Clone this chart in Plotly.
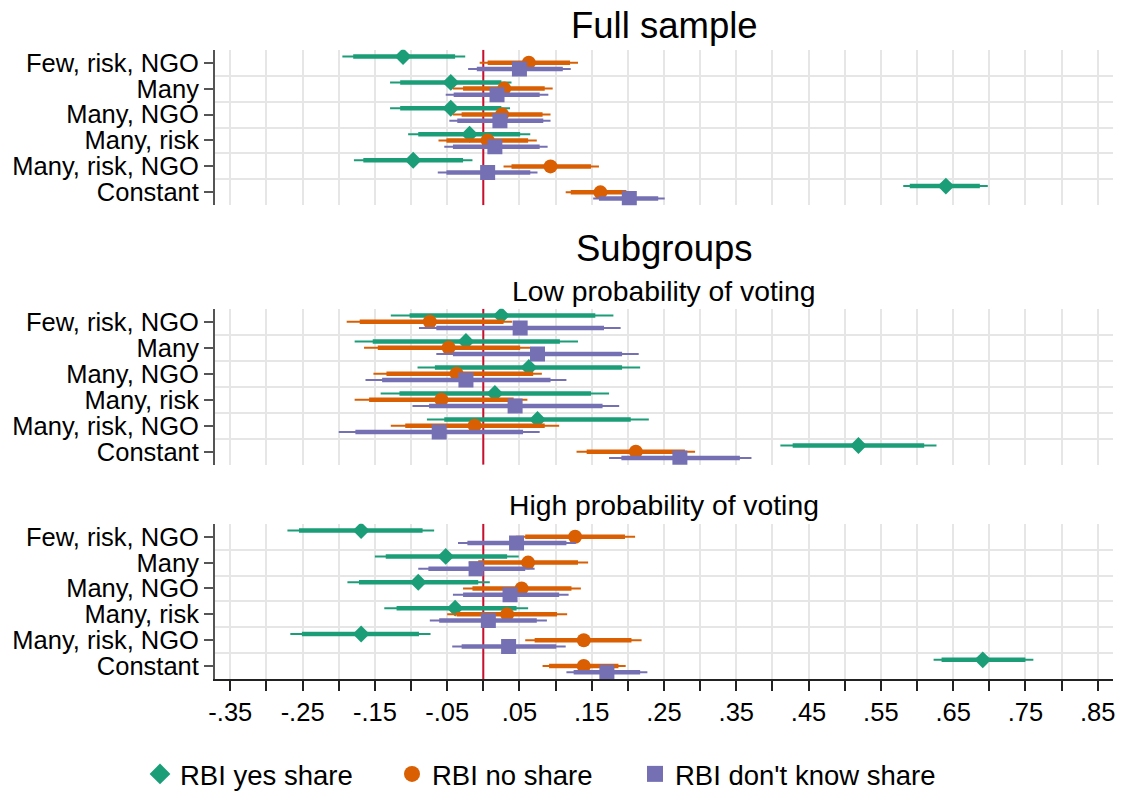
import plotly.graph_objects as go

categories = ["Few, risk, NGO", "Many", "Many, NGO", "Many, risk", "Many, risk, NGO", "Constant"]
series_names = ["RBI yes share", "RBI no share", "RBI don't know share"]
series_colors = ["#1b9e77", "#d95f02", "#7570b3"]
series_symbols = ["diamond", "circle", "square"]
series_sizes = [13, 14, 15]
legend_sizes = [18, 16, 16]

# each row: estimate, lower 95%, upper 95%, lower 90%, upper 90%
full_yes = [(-0.111, -0.195, -0.025, -0.180, -0.039),
            (-0.045, -0.129, 0.039, -0.115, 0.025),
            (-0.045, -0.129, 0.037, -0.115, 0.025),
            (-0.019, -0.104, 0.065, -0.090, 0.051),
            (-0.097, -0.179, -0.015, -0.166, -0.028),
            (0.640, 0.581, 0.698, 0.590, 0.687)]
full_no = [(0.063, -0.005, 0.131, 0.006, 0.120),
           (0.029, -0.042, 0.096, -0.028, 0.085),
           (0.026, -0.042, 0.093, -0.030, 0.082),
           (0.006, -0.062, 0.074, -0.051, 0.062),
           (0.093, 0.028, 0.160, 0.039, 0.149),
           (0.162, 0.114, 0.205, 0.121, 0.198)]
full_dk = [(0.050, -0.021, 0.121, -0.009, 0.110),
           (0.019, -0.052, 0.090, -0.041, 0.078),
           (0.023, -0.047, 0.093, -0.036, 0.083),
           (0.016, -0.054, 0.089, -0.042, 0.078),
           (0.006, -0.063, 0.075, -0.051, 0.065),
           (0.202, 0.152, 0.251, 0.160, 0.242)]

low_yes = [(0.025, -0.128, 0.180, -0.102, 0.155),
           (-0.024, -0.178, 0.131, -0.153, 0.106),
           (0.063, -0.091, 0.217, -0.067, 0.192),
           (0.016, -0.142, 0.174, -0.116, 0.149),
           (0.075, -0.078, 0.229, -0.054, 0.204),
           (0.519, 0.411, 0.627, 0.428, 0.610)]
low_no = [(-0.074, -0.189, 0.040, -0.171, 0.028),
          (-0.048, -0.165, 0.065, -0.146, 0.051),
          (-0.037, -0.152, 0.081, -0.134, 0.069),
          (-0.058, -0.178, 0.061, -0.158, 0.042),
          (-0.012, -0.128, 0.105, -0.108, 0.085),
          (0.211, 0.129, 0.293, 0.143, 0.279)]
low_dk = [(0.051, -0.089, 0.190, -0.065, 0.167),
          (0.075, -0.065, 0.215, -0.042, 0.192),
          (-0.024, -0.163, 0.115, -0.140, 0.093),
          (0.044, -0.098, 0.188, -0.075, 0.165),
          (-0.061, -0.200, 0.078, -0.177, 0.055),
          (0.272, 0.174, 0.371, 0.191, 0.355)]

high_yes = [(-0.169, -0.271, -0.068, -0.255, -0.084),
            (-0.052, -0.150, 0.049, -0.135, 0.033),
            (-0.090, -0.188, 0.009, -0.172, -0.007),
            (-0.039, -0.137, 0.062, -0.120, 0.046),
            (-0.169, -0.267, -0.073, -0.251, -0.089),
            (0.691, 0.623, 0.761, 0.634, 0.750)]
high_no = [(0.127, 0.045, 0.210, 0.058, 0.196),
           (0.062, -0.020, 0.145, -0.007, 0.131),
           (0.053, -0.028, 0.135, -0.015, 0.122),
           (0.033, -0.050, 0.116, -0.037, 0.102),
           (0.139, 0.058, 0.219, 0.071, 0.205),
           (0.139, 0.082, 0.197, 0.091, 0.187)]
high_dk = [(0.046, -0.035, 0.128, -0.022, 0.115),
           (-0.010, -0.090, 0.071, -0.076, 0.058),
           (0.037, -0.042, 0.118, -0.028, 0.105),
           (0.007, -0.074, 0.088, -0.061, 0.074),
           (0.035, -0.043, 0.114, -0.030, 0.101),
           (0.171, 0.115, 0.227, 0.125, 0.217)]

panels = [[full_yes, full_no, full_dk], [low_yes, low_no, low_dk], [high_yes, high_no, high_dk]]

x_tick_values = [-0.35, -0.30, -0.25, -0.20, -0.15, -0.10, -0.05, 0.00, 0.05, 0.10, 0.15, 0.20,
                 0.25, 0.30, 0.35, 0.40, 0.45, 0.50, 0.55, 0.60, 0.65, 0.70, 0.75, 0.80, 0.85]
x_tick_labels = ["-.35", "", "-.25", "", "-.15", "", "-.05", "", ".05", "", ".15", "", ".25", "",
                 ".35", "", ".45", "", ".55", "", ".65", "", ".75", "", ".85"]
reference_x = 0.0

W, H = 1123, 793
FONT = "Arial, Liberation Sans, sans-serif"
offsets = [-0.24, 0.0, 0.24]
Y_RANGE = [6.5, 0.5]

x_dom = [215 / W, 1113 / W]
panel_px = [(49.7, 205.3), (308.7, 464.7), (523.8, 679.0)]
y_doms = [[1 - b / H, 1 - t / H] for t, b in panel_px]

fig = go.Figure()
for p, panel in enumerate(panels):
    xa = "x" if p == 0 else f"x{p+1}"
    ya = "y" if p == 0 else f"y{p+1}"
    # zero reference line
    fig.add_trace(go.Scatter(x=[reference_x, reference_x], y=Y_RANGE, xaxis=xa, yaxis=ya,
                             mode="lines", line=dict(color="#c8102e", width=2),
                             showlegend=False, hoverinfo="skip"))
    for s, rows in enumerate(panel):
        ys = [i + 1 + offsets[s] for i in range(len(rows))]
        est = [r[0] for r in rows]
        fig.add_trace(go.Scatter(
            x=est, y=ys, xaxis=xa, yaxis=ya, mode="markers",
            marker=dict(size=2, color="rgba(0,0,0,0)"),
            error_x=dict(type="data", symmetric=False,
                         array=[r[2] - r[0] for r in rows],
                         arrayminus=[r[0] - r[1] for r in rows],
                         thickness=2, width=0, color=series_colors[s]),
            showlegend=False, hoverinfo="skip"))
        fig.add_trace(go.Scatter(
            x=est, y=ys, xaxis=xa, yaxis=ya, mode="markers",
            marker=dict(size=series_sizes[s], color=series_colors[s],
                        symbol=series_symbols[s], line=dict(width=0)),
            error_x=dict(type="data", symmetric=False,
                         array=[r[4] - r[0] for r in rows],
                         arrayminus=[r[0] - r[3] for r in rows],
                         thickness=4.5, width=0, color=series_colors[s]),
            showlegend=False, hoverinfo="skip"))

# legend-only entries, one legend per entry so each can be placed like the original
legend_ids = ["legend", "legend2", "legend3"]
legend_marker_px = [160, 412, 655]
for s in range(3):
    fig.add_trace(go.Scatter(
        x=[None], y=[None], mode="markers", name=series_names[s], legend=legend_ids[s],
        marker=dict(size=legend_sizes[s], color=series_colors[s], symbol=series_symbols[s],
                    line=dict(width=0)),
        showlegend=True, hoverinfo="skip"))

grid_col = "#e6e6e6"
layout_axes = {}
for p in range(3):
    xk = "xaxis" if p == 0 else f"xaxis{p+1}"
    yk = "yaxis" if p == 0 else f"yaxis{p+1}"
    ya = "y" if p == 0 else f"y{p+1}"
    xa = "x" if p == 0 else f"x{p+1}"
    bottom = (p == 2)
    layout_axes[xk] = dict(
        domain=x_dom, anchor=ya, range=[-0.3712, 0.8712], automargin=False,
        tickmode="array", tickvals=x_tick_values, ticktext=x_tick_labels,
        showgrid=True, gridcolor=grid_col, gridwidth=1.5, zeroline=False,
        showticklabels=bottom, ticks="outside" if bottom else "",
        ticklen=10, tickwidth=1.5, tickcolor="#222", ticklabelstandoff=0,
        showline=bottom, linecolor="#222", linewidth=1.5,
        tickfont=dict(family=FONT, size=25.5, color="black"))
    layout_axes[yk] = dict(
        domain=y_doms[p], anchor=xa, range=Y_RANGE, automargin=False,
        tickmode="array", tickvals=[1, 2, 3, 4, 5, 6], ticktext=categories,
        showgrid=False, zeroline=False, ticks="outside", ticklen=9,
        tickwidth=1.5, tickcolor="#555", showline=True, linecolor="#555",
        linewidth=2, tickfont=dict(family=FONT, size=25.5, color="black"),
        minor=dict(tickmode="array", tickvals=[1.5, 2.5, 3.5, 4.5, 5.5],
                   showgrid=True, gridcolor=grid_col, gridwidth=1.5, ticks=""))

cx = 664 / W
annotations = [
    dict(text="Full sample", x=cx, y=1 - 25 / H, xref="paper", yref="paper",
         showarrow=False, xanchor="center", yanchor="middle",
         font=dict(family=FONT, size=36.5, color="black")),
    dict(text="Subgroups", x=cx, y=1 - 249 / H, xref="paper", yref="paper",
         showarrow=False, xanchor="center", yanchor="middle",
         font=dict(family=FONT, size=36.5, color="black")),
    dict(text="Low probability of voting", x=cx, y=1 - 290.5 / H, xref="paper", yref="paper",
         showarrow=False, xanchor="center", yanchor="middle",
         font=dict(family=FONT, size=28.3, color="black")),
    dict(text="High probability of voting", x=cx, y=1 - 505 / H, xref="paper", yref="paper",
         showarrow=False, xanchor="center", yanchor="middle",
         font=dict(family=FONT, size=28.3, color="black")),
]

legend_layout = {}
for s in range(3):
    legend_layout[legend_ids[s]] = dict(
        orientation="h", x=(legend_marker_px[s] - 20) / W, xanchor="left",
        y=1 - 774 / H, yanchor="middle",
        font=dict(family=FONT, size=27.5, color="black"), itemsizing="trace",
        bgcolor="rgba(0,0,0,0)")

fig.update_layout(
    width=W, height=H, autosize=False,
    margin=dict(l=0, r=0, t=0, b=0, autoexpand=False),
    paper_bgcolor="white", plot_bgcolor="white",
    annotations=annotations,
    **legend_layout,
    **layout_axes)

fig.write_html("out.html")
